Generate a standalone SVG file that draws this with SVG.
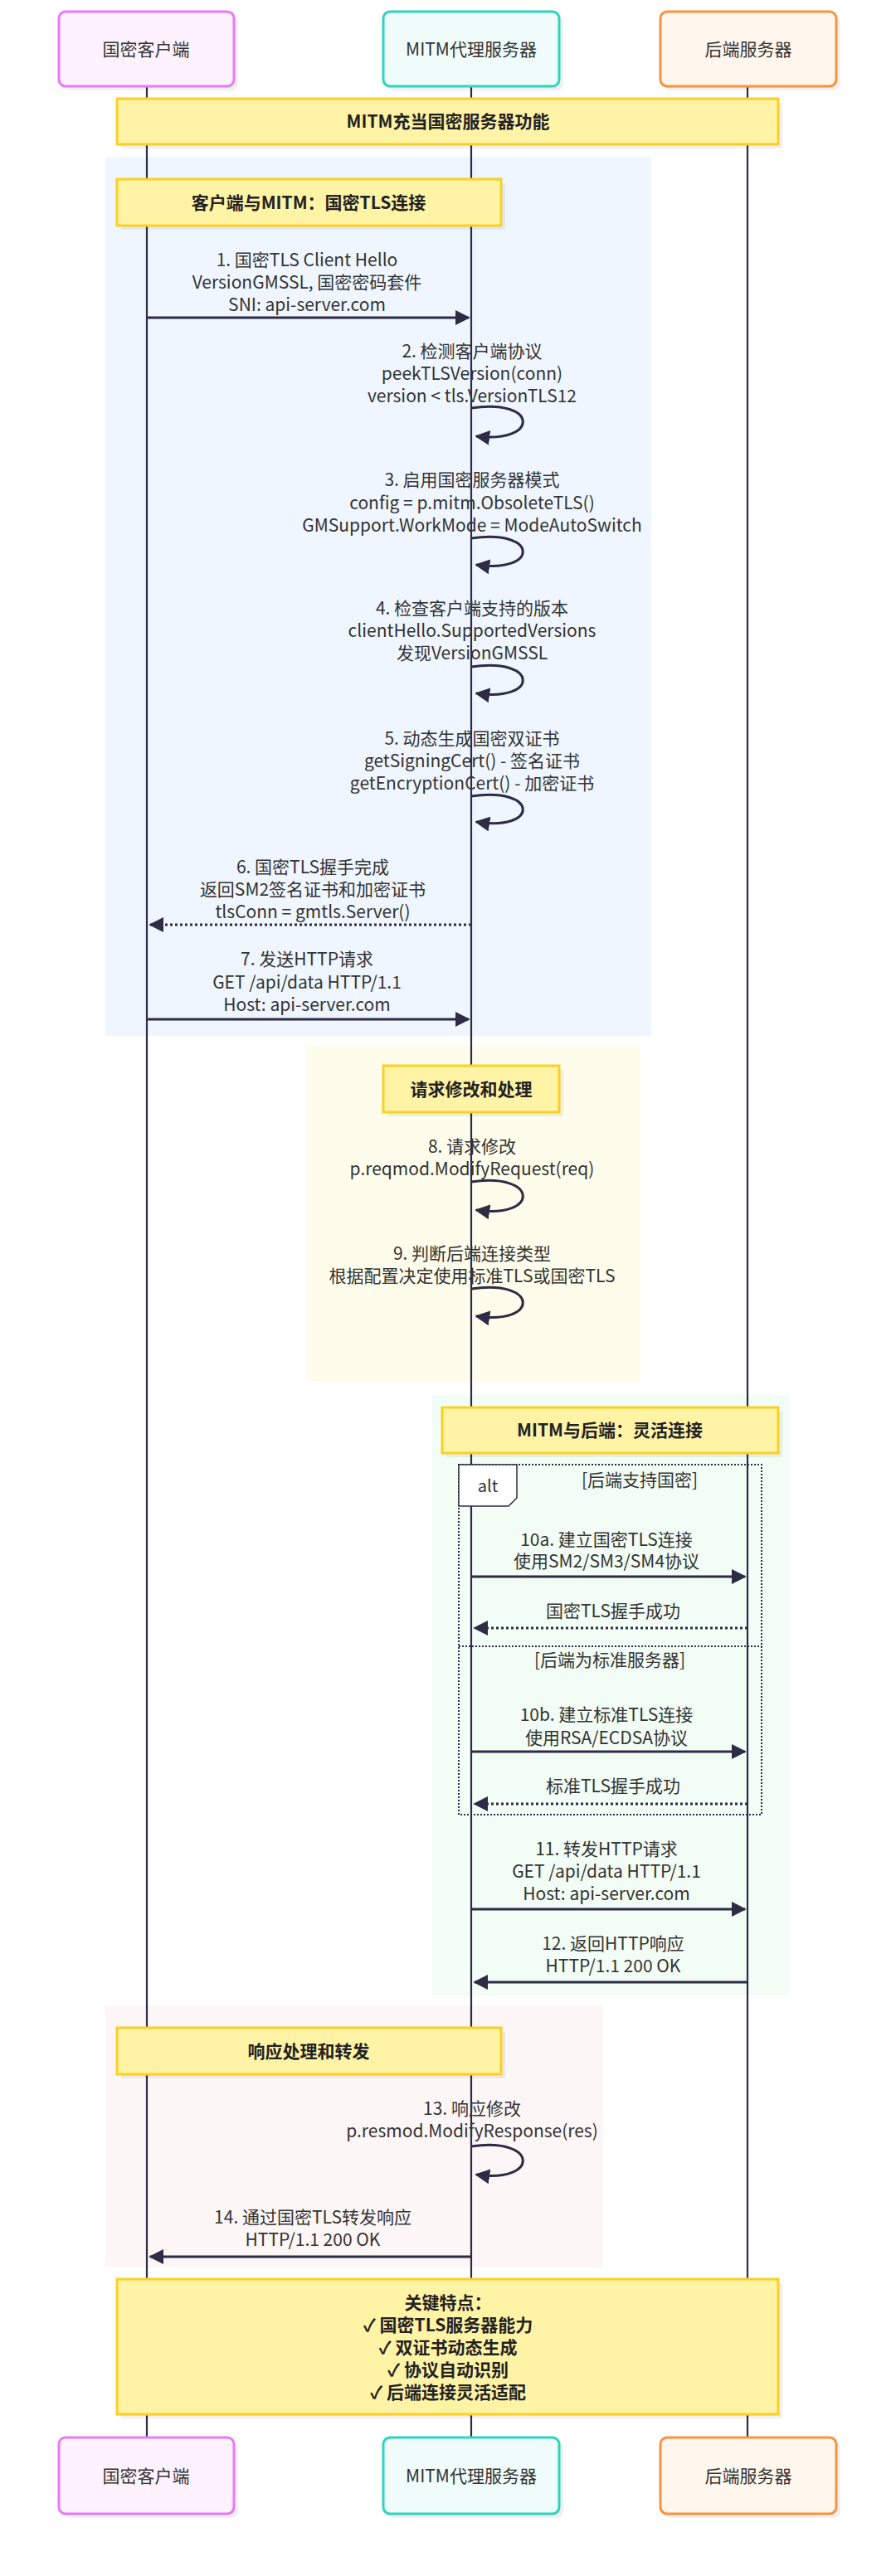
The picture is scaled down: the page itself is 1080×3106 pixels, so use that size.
<svg xmlns="http://www.w3.org/2000/svg" width="1080" height="3106" viewBox="0 0 1080 3106">
<defs>
<style>
text{font-family:"Noto Sans CJK SC","Liberation Sans",sans-serif;fill:#333;}
.t{font-size:21px;text-anchor:middle;}
.b{font-size:21px;font-weight:bold;text-anchor:middle;fill:#222;}
.life{stroke:#2e2b45;stroke-width:2.2;}
.msg{stroke:#2e2b45;stroke-width:3;fill:none;}
.dash{stroke:#2e2b45;stroke-width:3;fill:none;stroke-dasharray:3,3;}
.note{fill:#fff3a6;stroke:#fcd022;stroke-width:3;}
.sh{fill:#000;opacity:0.06;}
</style>
<marker id="ah" viewBox="0 0 10 10" refX="9" refY="5" markerWidth="6" markerHeight="6" orient="auto-start-reverse"><path d="M0,0L10,5L0,10z" fill="#2e2b45"/></marker>
</defs>
<rect width="1080" height="3106" fill="#fff"/>
<g id="backgrounds">
<rect x="127" y="189" width="658" height="1060" fill="#eff6ff"/>
<rect x="370" y="1260" width="402" height="405" fill="#fefdeb"/>
<rect x="521" y="1682" width="430" height="724" fill="#f2fdf5"/>
<rect x="127" y="2418" width="600" height="316" fill="#fdf6f6"/>
</g>
<g id="lifelines">
<line class="life" x1="177" y1="105" x2="177" y2="2939"/>
<line class="life" x1="568" y1="105" x2="568" y2="2939"/>
<line class="life" x1="901" y1="105" x2="901" y2="2939"/>
</g>
<g id="participants">
<g id="client-top"><rect class="sh" x="76" y="19" width="211" height="90" rx="8"/><rect x="71" y="14" width="211" height="90" rx="8" fill="#fdf2fd" stroke="#e879f9" stroke-width="3"/><text class="t" x="176" y="67">国密客户端</text></g>
<g id="mitm-top"><rect class="sh" x="467" y="19" width="212" height="90" rx="8"/><rect x="462" y="14" width="212" height="90" rx="8" fill="#effcf9" stroke="#2dd4bf" stroke-width="3"/><text class="t" x="568" y="67">MITM代理服务器</text></g>
<g id="backend-top"><rect class="sh" x="801" y="19" width="212" height="90" rx="8"/><rect x="796" y="14" width="212" height="90" rx="8" fill="#fff7ed" stroke="#fb923c" stroke-width="3"/><text class="t" x="902" y="67">后端服务器</text></g>
<g id="client-bottom"><rect class="sh" x="76" y="2944" width="211" height="92" rx="8"/><rect x="71" y="2939" width="211" height="92" rx="8" fill="#fdf2fd" stroke="#e879f9" stroke-width="3"/><text class="t" x="176" y="2993">国密客户端</text></g>
<g id="mitm-bottom"><rect class="sh" x="467" y="2944" width="212" height="92" rx="8"/><rect x="462" y="2939" width="212" height="92" rx="8" fill="#effcf9" stroke="#2dd4bf" stroke-width="3"/><text class="t" x="568" y="2993">MITM代理服务器</text></g>
<g id="backend-bottom"><rect class="sh" x="801" y="2944" width="212" height="92" rx="8"/><rect x="796" y="2939" width="212" height="92" rx="8" fill="#fff7ed" stroke="#fb923c" stroke-width="3"/><text class="t" x="902" y="2993">后端服务器</text></g>
</g>
<g id="notes">
<g id="note-main"><rect class="sh" x="146" y="124" width="797" height="55"/><rect class="note" x="141" y="119" width="797" height="55"/><text class="b" x="540" y="154">MITM充当国密服务器功能</text></g>
<g id="note-client"><rect class="sh" x="146" y="221" width="463" height="56"/><rect class="note" x="141" y="216" width="463" height="56"/><text class="b" x="372" y="252">客户端与MITM：国密TLS连接</text></g>
<g id="note-req"><rect class="sh" x="467" y="1290" width="212" height="56"/><rect class="note" x="462" y="1285" width="212" height="56"/><text class="b" x="568" y="1321">请求修改和处理</text></g>
<g id="note-backend"><rect class="sh" x="538" y="1702" width="405" height="55"/><rect class="note" x="533" y="1697" width="405" height="55"/><text class="b" x="735" y="1732">MITM与后端：灵活连接</text></g>
<g id="note-res"><rect class="sh" x="146" y="2450" width="463" height="56"/><rect class="note" x="141" y="2445" width="463" height="56"/><text class="b" x="372" y="2481">响应处理和转发</text></g>
<g id="note-key"><rect class="sh" x="146" y="2753" width="797" height="163"/><rect class="note" x="141" y="2748" width="797" height="163"/>
<text class="b" x="540" y="2784">关键特点：</text><text class="b" x="540" y="2811">✓ 国密TLS服务器能力</text><text class="b" x="540" y="2838">✓ 双证书动态生成</text><text class="b" x="540" y="2865">✓ 协议自动识别</text><text class="b" x="540" y="2892">✓ 后端连接灵活适配</text></g>
</g>
<g id="alt-frame">
<rect x="553" y="1766" width="365" height="422" fill="none" stroke="#2e2b45" stroke-width="2" stroke-dasharray="2,2"/>
<path d="M553,1766H623V1806L613,1816H553Z" fill="#fff" stroke="#2e2b45" stroke-width="1.5"/>
<text class="t" x="588" y="1799" style="font-size:20px">alt</text>
<text class="t" x="771" y="1792">[后端支持国密]</text>
<line x1="553" y1="1985" x2="918" y2="1985" stroke="#2e2b45" stroke-width="2" stroke-dasharray="2,2"/>
<text class="t" x="735" y="2009">[后端为标准服务器]</text>
</g>
<g id="connectors">
<path class="msg" d="M177,383H565" marker-end="url(#ah)"/>
<path class="msg" d="M568,492C650,480 650,535 574,526" marker-end="url(#ah)"/>
<path class="msg" d="M568,649C650,637 650,692 574,681" marker-end="url(#ah)"/>
<path class="msg" d="M568,804C650,792 650,847 574,836" marker-end="url(#ah)"/>
<path class="msg" d="M568,960C650,948 650,1003 574,991" marker-end="url(#ah)"/>
<path class="dash" d="M568,1115H181" marker-end="url(#ah)"/>
<path class="msg" d="M177,1229H565" marker-end="url(#ah)"/>
<path class="msg" d="M568,1425C650,1413 650,1470 574,1459" marker-end="url(#ah)"/>
<path class="msg" d="M568,1554C650,1542 650,1598 574,1587" marker-end="url(#ah)"/>
<path class="msg" d="M568,1901H898" marker-end="url(#ah)"/>
<path class="dash" d="M901,1963H572" marker-end="url(#ah)"/>
<path class="msg" d="M568,2112H898" marker-end="url(#ah)"/>
<path class="dash" d="M901,2175H572" marker-end="url(#ah)"/>
<path class="msg" d="M568,2302H898" marker-end="url(#ah)"/>
<path class="msg" d="M901,2390H572" marker-end="url(#ah)"/>
<path class="msg" d="M568,2588C650,2576 650,2633 574,2622" marker-end="url(#ah)"/>
<path class="msg" d="M568,2721H181" marker-end="url(#ah)"/>
</g>
<g id="labels">
<text class="t" x="370" y="321">1. 国密TLS Client Hello</text><text class="t" x="370" y="348">VersionGMSSL, 国密密码套件</text><text class="t" x="370" y="375">SNI: api-server.com</text>
<text class="t" x="569" y="431">2. 检测客户端协议</text><text class="t" x="569" y="458">peekTLSVersion(conn)</text><text class="t" x="569" y="485">version &lt; tls.VersionTLS12</text>
<text class="t" x="569" y="586">3. 启用国密服务器模式</text><text class="t" x="569" y="614">config = p.mitm.ObsoleteTLS()</text><text class="t" x="569" y="641">GMSupport.WorkMode = ModeAutoSwitch</text>
<text class="t" x="569" y="741">4. 检查客户端支持的版本</text><text class="t" x="569" y="768">clientHello.SupportedVersions</text><text class="t" x="569" y="795">发现VersionGMSSL</text>
<text class="t" x="569" y="898">5. 动态生成国密双证书</text><text class="t" x="569" y="925">getSigningCert() - 签名证书</text><text class="t" x="569" y="952">getEncryptionCert() - 加密证书</text>
<text class="t" x="377" y="1053">6. 国密TLS握手完成</text><text class="t" x="377" y="1080">返回SM2签名证书和加密证书</text><text class="t" x="377" y="1107">tlsConn = gmtls.Server()</text>
<text class="t" x="370" y="1164">7. 发送HTTP请求</text><text class="t" x="370" y="1192">GET /api/data HTTP/1.1</text><text class="t" x="370" y="1219">Host: api-server.com</text>
<text class="t" x="569" y="1390">8. 请求修改</text><text class="t" x="569" y="1417">p.reqmod.ModifyRequest(req)</text>
<text class="t" x="569" y="1519">9. 判断后端连接类型</text><text class="t" x="569" y="1546">根据配置决定使用标准TLS或国密TLS</text>
<text class="t" x="731" y="1864">10a. 建立国密TLS连接</text><text class="t" x="731" y="1890">使用SM2/SM3/SM4协议</text>
<text class="t" x="739" y="1950">国密TLS握手成功</text>
<text class="t" x="731" y="2075">10b. 建立标准TLS连接</text><text class="t" x="731" y="2103">使用RSA/ECDSA协议</text>
<text class="t" x="739" y="2161">标准TLS握手成功</text>
<text class="t" x="731" y="2237">11. 转发HTTP请求</text><text class="t" x="731" y="2264">GET /api/data HTTP/1.1</text><text class="t" x="731" y="2291">Host: api-server.com</text>
<text class="t" x="739" y="2351">12. 返回HTTP响应</text><text class="t" x="739" y="2378">HTTP/1.1 200 OK</text>
<text class="t" x="569" y="2550">13. 响应修改</text><text class="t" x="569" y="2577">p.resmod.ModifyResponse(res)</text>
<text class="t" x="377" y="2681">14. 通过国密TLS转发响应</text><text class="t" x="377" y="2708">HTTP/1.1 200 OK</text>
</g>
</svg>
